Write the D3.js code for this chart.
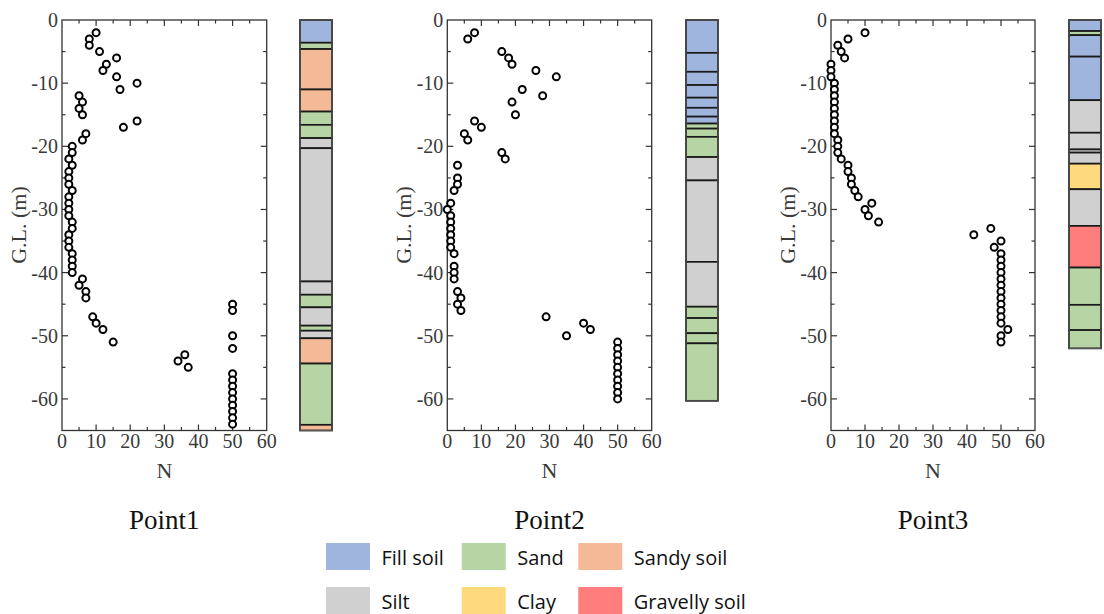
<!DOCTYPE html>
<html>
<head>
<meta charset="utf-8">
<script src="https://cdn.jsdelivr.net/npm/d3@7"></script>
<style>
  body { margin: 0; background: #fff; }
  svg { display: block; }
  .tick-label { font-family: "Liberation Serif", serif; font-size: 20px; fill: #3a3a3a; }
  .axis-title { font-family: "Liberation Serif", serif; font-size: 22px; fill: #3a3a3a; }
  .panel-title { font-family: "Liberation Serif", serif; font-size: 27px; fill: #111; }
  .legend-label { font-family: "Open Sans", sans-serif; font-size: 20px; fill: #111; }
</style>
</head>
<body>
<svg id="chart" width="1104" height="614"></svg>
<script>
// SPT N values by depth (G.L., m) for each boring
var point1GL = [-2,-3,-4,-5,-6,-7,-8,-9,-10,-11,-12,-13,-14,-15,-16,-17,-18,-19,-20,-21,-22,-23,-24,-25,-26,-27,-28,-29,-30,-31,-32,-33,-34,-35,-36,-37,-38,-39,-40,-41,-42,-43,-44,-45,-46,-47,-48,-49,-50,-51,-52,-53,-54,-55,-56,-57,-58,-59,-60,-61,-62,-63,-64];
var point1N  = [10,8,8,11,16,13,12,16,22,17,5,6,5,6,22,18,7,6,3,3,2,3,2,2,2,3,2,2,2,2,3,3,2,2,2,3,3,3,3,6,5,7,7,50,50,9,10,12,50,15,50,36,34,37,50,50,50,50,50,50,50,50,50];

var point2GL = [-2,-3,-5,-6,-7,-8,-9,-11,-12,-13,-15,-16,-17,-18,-19,-21,-22,-23,-25,-26,-27,-29,-30,-31,-32,-33,-34,-35,-36,-37,-39,-40,-41,-43,-44,-45,-46,-47,-48,-49,-50,-51,-52,-53,-54,-55,-56,-57,-58,-59,-60];
var point2N  = [8,6,16,18,19,26,32,22,28,19,20,8,10,5,6,16,17,3,3,3,2,1,0,1,1,1,1,1,1,2,2,2,2,3,4,3,4,29,40,42,35,50,50,50,50,50,50,50,50,50,50];

var point3GL = [-2,-3,-4,-5,-6,-7,-8,-9,-10,-11,-12,-13,-14,-15,-16,-17,-18,-19,-20,-21,-22,-23,-24,-25,-26,-27,-28,-29,-30,-31,-32,-33,-34,-35,-36,-37,-38,-39,-40,-41,-42,-43,-44,-45,-46,-47,-48,-49,-50,-51];
var point3N  = [10,5,2,3,4,0,0,0,1,1,1,1,1,1,1,1,1,2,2,2,3,5,5,6,6,7,8,12,10,11,14,47,42,50,48,50,50,50,50,50,50,50,50,50,50,50,50,52,50,50];

// soil columns: layer boundaries (depth, m) and soil type of each layer
var col1Bounds = [0,3.6,4.6,11.0,14.5,16.6,18.7,20.3,41.4,43.5,45.5,48.4,49.2,50.4,54.4,64.1,65];
var col1Soil = ["Fill soil","Sand","Sandy soil","Sandy soil","Sand","Sand","Silt","Silt","Silt","Sand","Silt","Sand","Silt","Sandy soil","Sand","Sandy soil"];

var col2Bounds = [0,5.2,8.2,10.3,12.3,13.9,15.3,16.4,17.2,18.5,21.7,25.4,38.3,45.4,47.2,49.6,51.2,60.3];
var col2Soil = ["Fill soil","Fill soil","Fill soil","Fill soil","Fill soil","Fill soil","Fill soil","Sand","Sand","Sand","Silt","Silt","Silt","Sand","Sand","Sand","Sand"];

var col3Bounds = [0,1.75,2.4,5.8,12.7,17.85,20.5,21.0,22.75,26.8,32.6,39.2,45.1,49.1,52.0];
var col3Soil = ["Fill soil","Sand","Fill soil","Fill soil","Silt","Silt","Silt","Silt","Clay","Silt","Gravelly soil","Sand","Sand","Sand"];

var soilNames = ["Fill soil","Sand","Sandy soil","Silt","Clay","Gravelly soil"];
var soilColors = ["#9fb5dd","#b7d5a4","#f4b996","#d0d0d0","#ffd97d","#ff7d7d"];

var xTicks = [0,10,20,30,40,50,60];
var yTicks = [0,-10,-20,-30,-40,-50,-60];

var svg = d3.select("#chart");
var soilColor = d3.scaleOrdinal().domain(soilNames).range(soilColors);

var yTop = 20, yBottom = 430.5;

var panels = [
  {title: "Point1", gl: point1GL, n: point1N, x0: 62, x1: 266.7, bounds: col1Bounds, soil: col1Soil, colX: 300},
  {title: "Point2", gl: point2GL, n: point2N, x0: 447.3, x1: 651.7, bounds: col2Bounds, soil: col2Soil, colX: 686},
  {title: "Point3", gl: point3GL, n: point3N, x0: 831, x1: 1035, bounds: col3Bounds, soil: col3Soil, colX: 1069}
];

panels.forEach(function (p) {
  var x = d3.scaleLinear().domain([0, 60]).range([p.x0, p.x1]);
  var y = d3.scaleLinear().domain([0, -65]).range([yTop, yBottom]);
  var g = svg.append("g");

  // inward ticks on all four sides
  var xt = d3.range(5, 60, 5), yt = d3.range(-5, -65, -5);
  xt.forEach(function (v) {
    var len = v % 10 === 0 ? 6 : 3.5;
    g.append("line").attr("x1", x(v)).attr("x2", x(v)).attr("y1", yTop).attr("y2", yTop + len).attr("stroke", "#333").attr("stroke-width", 1.2);
    g.append("line").attr("x1", x(v)).attr("x2", x(v)).attr("y1", yBottom).attr("y2", yBottom - len).attr("stroke", "#333").attr("stroke-width", 1.2);
  });
  yt.forEach(function (v) {
    var len = v % 10 === 0 ? 6 : 3.5;
    g.append("line").attr("x1", p.x0).attr("x2", p.x0 + len).attr("y1", y(v)).attr("y2", y(v)).attr("stroke", "#333").attr("stroke-width", 1.2);
    g.append("line").attr("x1", p.x1).attr("x2", p.x1 - len).attr("y1", y(v)).attr("y2", y(v)).attr("stroke", "#333").attr("stroke-width", 1.2);
  });
  g.append("rect").attr("x", p.x0).attr("y", yTop).attr("width", p.x1 - p.x0).attr("height", yBottom - yTop)
    .attr("fill", "none").attr("stroke", "#333").attr("stroke-width", 1.3);

  g.selectAll(".xl").data(xTicks).enter().append("text")
    .attr("class", "tick-label").attr("x", function (d) { return x(d); }).attr("y", 448)
    .attr("text-anchor", "middle").text(function (d) { return d; });
  g.selectAll(".yl").data(yTicks).enter().append("text")
    .attr("class", "tick-label").attr("x", p.x0 - 4).attr("y", function (d) { return y(d); })
    .attr("dy", "0.35em").attr("text-anchor", "end").text(function (d) { return d; });

  g.append("text").attr("class", "axis-title").attr("x", (p.x0 + p.x1) / 2).attr("y", 478)
    .attr("text-anchor", "middle").text("N");
  g.append("text").attr("class", "axis-title")
    .attr("transform", "translate(" + (p.x0 - 36) + "," + 225 + ") rotate(-90)")
    .attr("text-anchor", "middle").text("G.L. (m)");
  g.append("text").attr("class", "panel-title").attr("x", (p.x0 + p.x1) / 2).attr("y", 529)
    .attr("text-anchor", "middle").text(p.title);

  g.selectAll("circle").data(p.gl).enter().append("circle")
    .attr("cx", function (d, i) { return x(p.n[i]); })
    .attr("cy", function (d) { return y(d); })
    .attr("r", 3.5).attr("fill", "#fff").attr("stroke", "#000").attr("stroke-width", 2);

  // soil column
  var layers = p.soil.map(function (s, i) { return {soil: s, t: p.bounds[i], b: p.bounds[i + 1]}; });
  g.selectAll(".layer").data(layers).enter().append("rect")
    .attr("x", p.colX).attr("width", 32)
    .attr("y", function (d) { return y(-d.t); })
    .attr("height", function (d) { return y(-d.b) - y(-d.t); })
    .attr("fill", function (d) { return soilColor(d.soil); })
    .attr("stroke", "#1a1a1a").attr("stroke-width", 1.7);
  g.append("rect").attr("x", p.colX).attr("width", 32)
    .attr("y", y(0)).attr("height", y(-p.bounds[p.bounds.length - 1]) - y(0))
    .attr("fill", "none").attr("stroke", "#555").attr("stroke-width", 1.2);
});

// legend
var legX = [326, 461.7, 578.3], legY = [543, 587];
soilNames.forEach(function (name, i) {
  var cx = legX[i % 3], cy = legY[Math.floor(i / 3)];
  svg.append("rect").attr("x", cx).attr("y", cy).attr("width", 44).attr("height", 27)
    .attr("fill", soilColor(name));
  svg.append("text").attr("class", "legend-label").attr("x", cx + 55.5).attr("y", cy + 22).text(name);
});
</script>
</body>
</html>
